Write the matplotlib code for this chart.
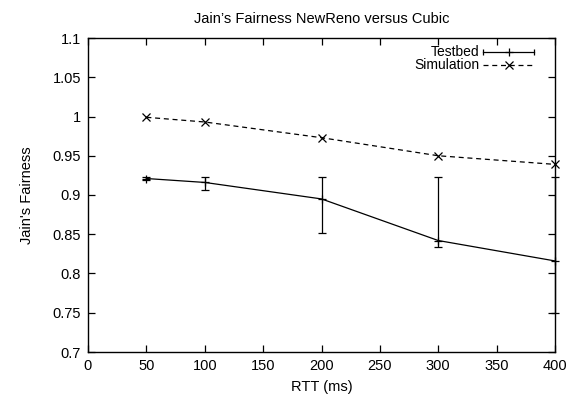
import matplotlib
matplotlib.use("Agg")
import matplotlib.pyplot as plt
from matplotlib.ticker import FixedLocator, FixedFormatter

plt.rcParams["font.family"] = ["Liberation Sans", "DejaVu Sans"]
plt.rcParams["font.size"] = 10.5

# RTT sweep (ms)
rtt = [50, 100, 200, 300, 400]

# testbed measurements: mean fairness with min/max range
testbed_mean = [0.921, 0.916, 0.895, 0.842, 0.816]
testbed_low = [0.919, 0.907, 0.851, 0.834, 0.750]
testbed_high = [0.923, 0.923, 0.923, 0.923, 0.923]

# ns-3 simulation results
simulation = [0.999, 0.993, 0.973, 0.950, 0.939]

x_ticks = [0, 50, 100, 150, 200, 250, 300, 350, 400]
y_ticks = [0.7, 0.75, 0.8, 0.85, 0.9, 0.95, 1.0, 1.05, 1.1]
y_tick_labels = ["0.7", "0.75", "0.8", "0.85", "0.9", "0.95", "1", "1.05", "1.1"]

FS = 10.5
KEY_FS = 10

fig = plt.figure(figsize=(5.67, 4.0), dpi=100)
ax = fig.add_axes([88 / 567, 48 / 400, 467 / 567, 314 / 400])

yerr = [
    [m - lo for m, lo in zip(testbed_mean, testbed_low)],
    [hi - m for m, hi in zip(testbed_mean, testbed_high)],
]
ax.errorbar(rtt, testbed_mean, yerr=yerr, color="black", lw=0.9,
            elinewidth=0.9, capsize=2.6, capthick=0.9, marker="+", ms=6,
            mew=0.9, clip_on=False, zorder=3)
ax.plot(rtt, simulation, color="black", lw=0.9, ls=(0, (4, 3)),
        marker="x", ms=5.5, mew=0.9, clip_on=False, zorder=3)

ax.set_xlim(0, 400)
ax.set_ylim(0.7, 1.1)
ax.xaxis.set_major_locator(FixedLocator(x_ticks))
ax.yaxis.set_major_locator(FixedLocator(y_ticks))
ax.yaxis.set_major_formatter(FixedFormatter(y_tick_labels))
ax.tick_params(direction="in", length=5, width=0.9, top=True, right=True,
               pad=5, labelsize=FS)
for spine in ax.spines.values():
    spine.set_linewidth(1.0)

ax.set_title("Jain\u2019s Fairness NewReno versus Cubic", fontsize=FS, pad=11)
ax.set_xlabel("RTT (ms)", fontsize=FS, labelpad=5)
ax.set_ylabel("Jain's Fairness", fontsize=FS, labelpad=13)

# gnuplot-style key: label text on the left, line sample on the right
tr = ax.transAxes
x0, x1, xm = 0.846, 0.955, 0.9005
y_tb, y_sim = 0.954, 0.913
ax.text(0.839, y_tb, "Testbed", transform=tr, ha="right", va="center",
        fontsize=KEY_FS)
ax.plot([x0, x1], [y_tb, y_tb], color="black", lw=0.9, transform=tr)
ax.plot([x0, x1], [y_tb, y_tb], ls="none", marker="|", ms=5, mew=0.9,
        color="black", transform=tr)
ax.plot([xm], [y_tb], ls="none", marker="+", ms=6, mew=0.9,
        color="black", transform=tr)
ax.text(0.839, y_sim, "Simulation", transform=tr, ha="right", va="center",
        fontsize=KEY_FS)
ax.plot([x0, x1], [y_sim, y_sim], color="black", lw=0.9, ls=(0, (4, 3)),
        transform=tr)
ax.plot([xm], [y_sim], ls="none", marker="x", ms=5.5, mew=0.9,
        color="black", transform=tr)

fig.savefig("out.png", dpi=100)
